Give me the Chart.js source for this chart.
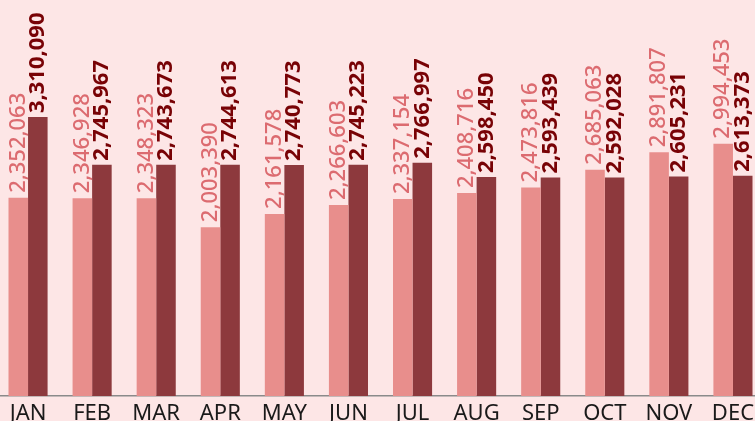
<!DOCTYPE html>
<html><head><meta charset="utf-8">
<script src="https://cdn.jsdelivr.net/npm/chart.js@4/dist/chart.umd.min.js"></script>
<style>
html,body{margin:0;padding:0;background:#fde6e6;overflow:hidden;width:755px;height:421px;}
#wrap{position:absolute;left:-4px;top:0;width:769px;height:421px;}
</style></head><body>
<div id="wrap"><canvas id="c" width="769" height="421"></canvas></div>
<script>
const categories = ["JAN","FEB","MAR","APR","MAY","JUN","JUL","AUG","SEP","OCT","NOV","DEC"];
const seriesLight = [2352063,2346928,2348323,2003390,2161578,2266603,2337154,2408716,2473816,2685063,2891807,2994453];
const seriesDark = [3310090,2745967,2743673,2744613,2740773,2745223,2766997,2598450,2593439,2592028,2605231,2613373];

const labelPlugin = {
  id: 'vlabels',
  afterDatasetsDraw(chart) {
    const ctx = chart.ctx;
    chart.data.datasets.forEach((ds, di) => {
      const meta = chart.getDatasetMeta(di);
      meta.data.forEach((bar, i) => {
        const txt = ds.data[i].toLocaleString('en-US');
        ctx.save();
        ctx.translate(bar.x, bar.y - (di === 1 ? 4 : 5));
        ctx.rotate(-Math.PI / 2);
        ctx.font = di === 1 ? 'bold 22px "Noto Sans"' : '500 22px "Noto Sans"';
        ctx.fillStyle = di === 1 ? '#780205' : '#dc6b70';
        ctx.textAlign = 'left';
        ctx.textBaseline = 'middle';
        ctx.fillText(txt, 0, 0);
        ctx.restore();
      });
    });
  }
};

new Chart(document.getElementById('c'), {
  type: 'bar',
  data: {
    labels: categories,
    datasets: [
      { data: seriesLight, backgroundColor: '#e88e8c', categoryPercentage: 0.61, barPercentage: 1 },
      { data: seriesDark, backgroundColor: '#8d393d', categoryPercentage: 0.61, barPercentage: 1 }
    ]
  },
  options: {
    responsive: false,
    animation: false,
    layout: { padding: { top: 0, bottom: -11, left: 0, right: 0 } },
    plugins: { legend: { display: false }, tooltip: { enabled: false } },
    scales: {
      x: {
        grid: { display: false, drawTicks: false },
        border: { display: true, color: '#8a8a8a', width: 1.5 },
        ticks: { color: '#1a1a1a', font: { family: '"Noto Sans"', size: 22, lineHeight: 1.0 }, padding: 7, maxRotation: 0 }
      },
      y: {
        display: false,
        min: 0,
        max: 4700000
      }
    }
  },
  plugins: [labelPlugin]
});
</script>
</body></html>
